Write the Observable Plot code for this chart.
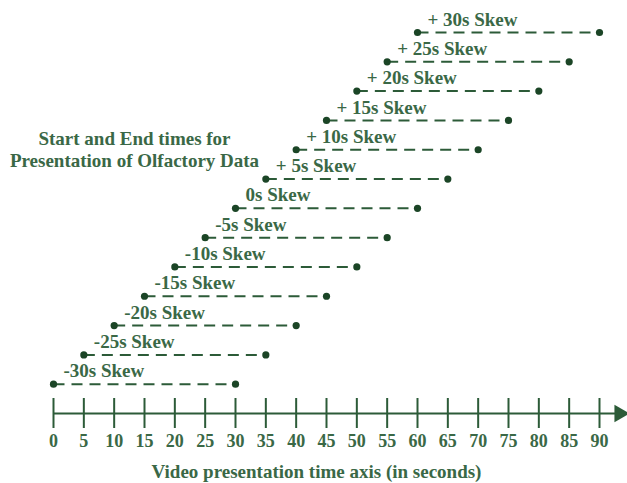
<!DOCTYPE html>
<html>
<head>
<meta charset="utf-8">
<script src="https://cdn.jsdelivr.net/npm/d3@7"></script>
<script src="https://cdn.jsdelivr.net/npm/@observablehq/plot@0.6"></script>
<style>
  body { margin: 0; background: #fff; }
</style>
</head>
<body>
<div id="chart"></div>
<script>
// Data
const skews = [-30, -25, -20, -15, -10, -5, 0, 5, 10, 15, 20, 25, 30];
const labels = ["-30s Skew", "-25s Skew", "-20s Skew", "-15s Skew", "-10s Skew", "-5s Skew", "0s Skew",
  "+ 5s Skew", "+ 10s Skew", "+ 15s Skew", "+ 20s Skew", "+ 25s Skew", "+ 30s Skew"];
const starts = [0, 5, 10, 15, 20, 25, 30, 35, 40, 45, 50, 55, 60];
const ends = [30, 35, 40, 45, 50, 55, 60, 65, 70, 75, 80, 85, 90];
const tickValues = [0, 5, 10, 15, 20, 25, 30, 35, 40, 45, 50, 55, 60, 65, 70, 75, 80, 85, 90];
const axisRow = -35;      // the time axis sits one row below the last skew row
const axisArrowX = 93.3;  // where the axis arrow head sits
const axisTitle = "Video presentation time axis (in seconds)";
const noteText = "Start and End times for\nPresentation of Olfactory Data";

const rows = skews.map((s, i) => ({skew: s, label: labels[i], start: starts[i], end: ends[i]}));
const points = rows.flatMap(r => [{x: r.start, skew: r.skew}, {x: r.end, skew: r.skew}]);

const textColor = "#3a6846";
const lineColor = "#2c5b38";
const dotColor = "#1b4526";
const font = "'Liberation Serif', 'Times New Roman', serif";

const chart = Plot.plot({
  width: 627,
  height: 483,
  marginLeft: 53,
  marginRight: 28,
  marginTop: 32,
  marginBottom: 70,
  style: {fontFamily: font, fontWeight: "bold", fontSize: "19px", color: lineColor, background: "#fff"},
  x: {domain: [0, 90]},
  y: {domain: [axisRow, 30], axis: null},
  marks: [
    // dashed intervals
    Plot.link(rows, {x1: "start", x2: "end", y1: "skew", y2: "skew", stroke: lineColor, strokeWidth: 2, strokeDasharray: "11,7"}),
    // start/end dots
    Plot.dot(points, {x: "x", y: "skew", r: 3.6, fill: dotColor, stroke: "none"}),
    // skew labels
    Plot.text(rows, {x: "start", y: "skew", text: "label", textAnchor: "start", dx: 10, dy: -13, fill: textColor, fontSize: 19, fontWeight: "bold", fontFamily: font}),
    // time axis line and arrow
    Plot.ruleY([axisRow], {x1: 0, x2: axisArrowX, stroke: lineColor, strokeWidth: 2}),
    Plot.dot([axisRow], {x: () => axisArrowX, y: d => d, symbol: "triangle", rotate: 90, r: 6.5, fill: lineColor, stroke: "none"}),
    // upper half of ticks
    Plot.axisX({anchor: "bottom", ticks: tickValues, tickSize: 15, dy: -15, fill: "none", stroke: lineColor, strokeWidth: 2, label: null}),
    // lower half of ticks + labels
    Plot.axisX({anchor: "bottom", ticks: tickValues, tickSize: 15, tickPadding: 6, stroke: lineColor, strokeWidth: 2, fill: textColor, fontSize: 18, fontWeight: "bold", fontFamily: font, label: null, tickFormat: d => String(d)}),
    // axis title
    Plot.text([axisTitle], {frameAnchor: "bottom", text: d => d, dy: 58, dx: -10, lineAnchor: "middle", fill: textColor, fontSize: 19, fontWeight: "bold", fontFamily: font}),
    // annotation
    Plot.text([noteText], {frameAnchor: "top-left", text: d => d, dx: 81, dy: 116, textAnchor: "middle", lineAnchor: "middle", lineHeight: 1.16, fill: textColor, fontSize: 19, fontWeight: "bold", fontFamily: font})
  ]
});
document.getElementById("chart").appendChild(chart);
</script>
</body>
</html>
